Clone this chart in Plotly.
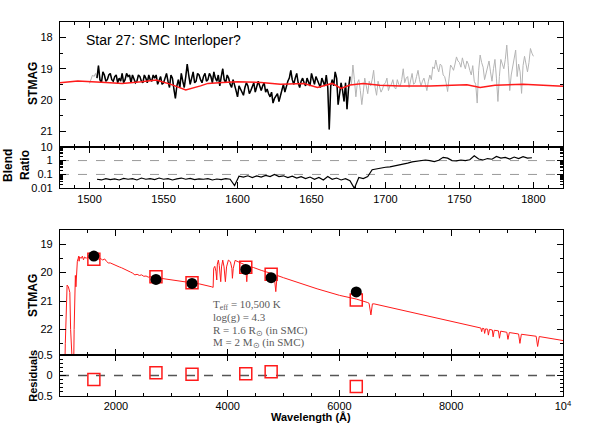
import numpy as np
import plotly.graph_objects as go

# ---------------- data ----------------
# UV spectrum (STMAG), 1 A sampling starting at 1500 A
spec_start, spec_step = 1500, 1
spec_mag = [
    19.47, 19.30, 19.20, 19.25, 19.15, 19.30, 18.90, 19.35, 19.45, 19.10,
    19.20, 19.40, 19.35, 19.20, 19.15, 19.35, 19.40, 19.25, 19.20, 19.45,
    19.30, 19.40, 19.15, 19.45, 19.35, 19.15, 19.25, 19.20, 19.45, 19.20,
    19.30, 19.45, 19.40, 19.20, 19.25, 19.40, 19.45, 19.20, 19.30, 19.45,
    19.20, 19.35, 19.40, 19.20, 19.30, 19.20, 19.50, 19.35, 19.25, 19.50,
    19.45, 19.30, 19.15, 19.40, 19.60, 19.20, 19.30, 19.65, 19.95, 19.55,
    19.35, 19.60, 19.15, 19.40, 19.60, 19.25, 18.85, 19.20, 19.50, 19.30,
    19.10, 19.45, 19.40, 19.15, 19.20, 19.35, 19.45, 19.25, 19.15, 19.40,
    19.35, 19.15, 19.25, 19.45, 19.10, 19.30, 19.40, 19.20, 19.55, 19.25,
    19.00, 19.35, 19.45, 19.20, 19.30, 19.50, 19.60, 19.35, 19.50, 19.70,
    19.90, 19.55, 19.65, 19.75, 19.85, 19.60, 19.45, 19.55, 19.80, 19.70,
    19.55, 19.45, 19.75, 19.60, 19.40, 19.55, 19.70, 19.55, 19.45, 19.75,
    19.65, 19.80, 19.90, 19.75, 20.10, 19.95, 19.85, 19.80, 20.05, 19.85,
    19.60, 19.50, 19.75, 19.55, 19.40, 19.30, 19.05, 19.35, 19.50, 19.30,
    19.15, 19.45, 19.60, 19.40, 19.30, 19.45, 19.55, 19.30, 19.40, 19.55,
    19.15, 19.35, 19.50, 19.25, 19.35, 19.50, 19.60, 19.30, 19.45, 19.55,
    19.20, 19.60, 20.95, 19.55, 19.35, 19.55, 19.10, 19.30, 20.15, 19.70,
    19.45, 19.70, 20.05, 19.45, 20.30, 19.65, 19.25, 19.50, 18.88, 19.35,
    19.90, 19.45, 19.35, 19.70, 20.15, 19.75, 19.30, 19.55, 19.80, 19.40,
    19.55, 19.35, 19.05, 19.60, 19.85, 19.40, 19.55, 19.75, 19.65, 19.50,
    19.45, 19.30, 19.70, 19.55, 19.50, 19.35, 19.60, 19.65, 19.35, 19.50,
    19.55, 19.35, 19.00, 19.45, 19.30, 19.25, 19.60, 19.40, 19.15, 19.50,
    19.45, 19.25, 19.05, 19.35, 19.55, 19.40, 19.30, 19.50, 19.70, 19.40,
    19.20, 19.35, 18.94, 19.00, 18.72, 18.95, 19.10, 18.85, 18.90, 19.20,
    19.25, 19.45, 19.73, 19.30, 18.88, 18.95, 19.05, 18.85, 18.62, 18.75,
    18.80, 18.95, 18.65, 18.85, 19.00, 18.75, 18.85, 19.05, 19.20, 18.90,
    19.40, 19.50, 20.10, 19.05, 18.56, 18.80, 18.95, 19.35, 19.15, 18.90,
    18.75, 19.10, 19.40, 19.00, 18.70, 19.30, 20.05, 19.25, 18.70, 18.85,
    19.00, 18.70, 18.24, 18.90, 19.70, 19.20, 18.95, 18.70, 18.40, 19.25,
    18.85, 19.10, 19.79, 18.90, 18.60, 18.85, 19.10, 18.80, 18.35, 18.50,
    18.60,
]
good_range = (1505, 1676)   # part of the spectrum drawn in black

top_model_wl = [1480, 1492, 1511, 1522, 1535, 1545, 1555, 1565, 1575, 1580, 1590,
                1600, 1616, 1629, 1645, 1654, 1664, 1670, 1676, 1685, 1696, 1710,
                1730, 1755, 1764, 1774, 1793, 1820]
top_model_mag = [19.45, 19.39, 19.44, 19.47, 19.42, 19.36, 19.50, 19.68, 19.55, 19.47,
                 19.44, 19.42, 19.44, 19.50, 19.47, 19.60, 19.47, 19.63, 19.52, 19.47,
                 19.53, 19.55, 19.55, 19.51, 19.60, 19.53, 19.50, 19.56]

# Blend ratio, 3 A sampling starting at 1505 A
blend_start, blend_step = 1505, 3
blend_ratio = [
    0.045, 0.040, 0.050, 0.042, 0.048, 0.040, 0.052, 0.045, 0.050, 0.040,
    0.055, 0.045, 0.050, 0.043, 0.055, 0.045, 0.050, 0.040, 0.048, 0.055,
    0.045, 0.052, 0.042, 0.048, 0.045, 0.050, 0.040, 0.047, 0.043, 0.050,
    0.045, 0.016, 0.075, 0.065, 0.080, 0.060, 0.078, 0.065, 0.085, 0.070,
    0.100, 0.070, 0.080, 0.060, 0.075, 0.055, 0.070, 0.050, 0.065, 0.045,
    0.060, 0.040, 0.070, 0.045, 0.055, 0.040, 0.050, 0.035, 0.010, 0.060,
    0.050, 0.070, 0.220, 0.260, 0.300, 0.330, 0.350, 0.400, 0.450, 0.550,
    0.650, 0.800, 0.900, 1.000, 1.100, 1.000, 0.850, 1.050, 1.700, 1.500,
    1.000, 0.950, 1.100, 1.000, 1.150, 2.200, 1.300, 1.100, 1.400, 1.250,
    2.000, 1.500, 1.700, 1.300, 1.800, 1.400, 1.900, 1.500, 1.600,
]
blend_levels = [1, 0.1]

# Model SED (STMAG)
model_wl = [1000, 1080, 1095, 1110, 1127, 1150, 1176, 1190, 1206, 1240, 1253, 1265,
            1275, 1285, 1296, 1310, 1325, 1335, 1342, 1350, 1380, 1400, 1420, 1440,
            1470, 1500, 1530, 1550, 1580, 1610, 1640, 1670, 1700, 1730, 1760, 1800,
            1830, 1863, 1900, 1940, 1980, 2020, 2060, 2102, 2140, 2180, 2220, 2260,
            2300, 2340, 2380, 2420, 2460, 2500, 2540, 2580, 2620, 2700, 2800, 3000,
            3300, 3500, 3715, 3740, 3750, 3770, 3790, 3805, 3815, 3834, 3850, 3876,
            3890, 3912, 3935, 3959, 3980, 4013, 4050, 4075, 4085, 4100, 4133, 4200,
            4280, 4320, 4342, 4360, 4460, 4600, 4760, 4830, 4861, 4885, 5000, 5300,
            5600, 6000, 6300, 6500, 6530, 6563, 6590, 6620, 7000, 7500, 8000, 8500,
            8530, 8545, 8560, 8585, 8598, 8615, 8650, 8665, 8685, 8735, 8750, 8770,
            8845, 8863, 8885, 8995, 9015, 9040, 9205, 9229, 9255, 9520, 9546, 9575,
            10000]
model_mag = [24.0, 24.0, 22.5, 21.0, 20.44, 20.5, 20.7, 22.0, 24.0, 24.0, 22.0, 20.6,
             20.1, 20.5, 19.85, 19.6, 19.5, 19.42, 19.6, 19.45, 19.5, 19.42, 19.55, 19.45,
             19.5, 19.44, 19.52, 19.42, 19.5, 19.45, 19.52, 19.48, 19.55, 19.5, 19.56, 19.52,
             19.6, 19.66, 19.66, 19.7, 19.74, 19.78, 19.8, 19.83, 19.86, 19.92, 19.95, 19.98,
             20.02, 20.08, 20.06, 20.1, 20.08, 20.13, 20.12, 20.16, 20.14, 20.18, 20.2, 20.26,
             20.33, 20.4, 20.5, 20.52, 19.85, 19.78, 19.95, 20.26, 19.7, 19.56, 19.75, 20.32,
             19.8, 19.56, 19.8, 20.32, 19.8, 19.56, 19.62, 19.85, 20.2, 19.85, 19.57, 19.62,
             19.7, 19.76, 20.32, 19.78, 19.82, 19.92, 20.02, 20.06, 20.67, 20.1, 20.18, 20.38,
             20.57, 20.8, 20.93, 21.05, 21.08, 21.49, 21.1, 21.1, 21.27, 21.5, 21.72, 21.93,
             21.95, 22.08, 21.96, 21.97, 22.14, 21.98, 21.99, 22.2, 22.0, 22.02, 22.26, 22.03,
             22.05, 22.31, 22.06, 22.1, 22.35, 22.11, 22.16, 22.49, 22.17, 22.24, 22.6, 22.25,
             22.39]

phot_wl = [1606, 2717, 3362, 4324, 4778, 6301]
obs_mag = [19.42, 20.24, 20.38, 19.89, 20.18, 20.68]
model_phot_mag = [19.53, 20.15, 20.36, 19.81, 20.06, 20.96]
residuals = [-0.10, 0.07, 0.03, 0.04, 0.09, -0.27]

top_xrange = [1480, 1820]
sed_xrange = [1000, 10000]

params_text = ["T<sub>eff</sub> = 10,500 K", "log(g) = 4.3",
               "R = 1.6 R<sub>⊙</sub> (in SMC)", "M = 2 M<sub>⊙</sub> (in SMC)"]

# ---------------- figure ----------------
spec_wl = np.arange(len(spec_mag)) * spec_step + spec_start
spec_mag_arr = np.array(spec_mag)
good = (spec_wl >= good_range[0]) & (spec_wl <= good_range[1])
blend_wl = np.arange(len(blend_ratio)) * blend_step + blend_start

RED = "#ff1a1a"
fig = go.Figure()

fig.add_trace(go.Scatter(x=spec_wl, y=spec_mag_arr, mode="lines", line=dict(color="#b4b4b4", width=1),
                         xaxis="x", yaxis="y", showlegend=False))
fig.add_trace(go.Scatter(x=spec_wl[good], y=spec_mag_arr[good], mode="lines",
                         line=dict(color="black", width=1.5),
                         xaxis="x", yaxis="y", showlegend=False))
fig.add_trace(go.Scatter(x=top_model_wl, y=top_model_mag, mode="lines", line=dict(color=RED, width=1.5),
                         xaxis="x", yaxis="y", showlegend=False))

fig.add_trace(go.Scatter(x=blend_wl, y=blend_ratio, mode="lines", line=dict(color="black", width=1.2),
                         xaxis="x2", yaxis="y2", showlegend=False))

fig.add_trace(go.Scatter(x=model_wl, y=model_mag, mode="lines", line=dict(color=RED, width=1),
                         xaxis="x3", yaxis="y3", showlegend=False))
fig.add_trace(go.Scatter(x=phot_wl, y=model_phot_mag, mode="markers",
                         marker=dict(symbol="square-open", size=12, color=RED, line=dict(width=1.5, color=RED)),
                         xaxis="x3", yaxis="y3", showlegend=False))
fig.add_trace(go.Scatter(x=phot_wl, y=obs_mag, mode="markers",
                         marker=dict(symbol="circle", size=11, color="black"),
                         xaxis="x3", yaxis="y3", showlegend=False))

fig.add_trace(go.Scatter(x=phot_wl, y=residuals, mode="markers",
                         marker=dict(symbol="square-open", size=12, color=RED, line=dict(width=1.5, color=RED)),
                         xaxis="x4", yaxis="y4", showlegend=False))

shapes = []
for lvl in blend_levels:
    shapes.append(dict(type="line", xref="x2 domain", x0=0, x1=1, yref="y2", y0=lvl, y1=lvl,
                       line=dict(color="#9a9a9a", width=1, dash="dash"), layer="below"))
shapes.append(dict(type="line", xref="x4 domain", x0=0, x1=1, yref="y4", y0=0, y1=0,
                   line=dict(color="#555555", width=1.5, dash="dash"), layer="below"))

TICKFONT = dict(family="Liberation Sans, Arial, sans-serif", size=11, color="black")


def axis(**kw):
    base = dict(showline=True, linecolor="black", linewidth=1.2, mirror="allticks",
                ticks="inside", ticklen=6, tickwidth=1, tickcolor="black",
                showgrid=False, zeroline=False, tickfont=TICKFONT)
    base.update(kw)
    return base


def minor(d, t0=0):
    return dict(ticks="inside", ticklen=3, tickwidth=1, tickcolor="black", dtick=d, tick0=t0, showgrid=False)


# paper domains
d_top = [0.6666, 1.0]
d_blend = [0.5553, 0.6666]
d_sed = [0.1096, 0.4439]
d_res = [0.0, 0.1096]

fig.update_layout(
    width=598, height=447,
    margin=dict(l=60, r=35, t=22, b=51),
    paper_bgcolor="white", plot_bgcolor="white",
    showlegend=False,
    xaxis=axis(domain=[0, 1], range=top_xrange, anchor="y", tick0=1500, dtick=50,
               showticklabels=False, minor=minor(10)),
    yaxis=axis(domain=d_top, range=[21.5, 17.5], anchor="x", tick0=18, dtick=1,
               minor=minor(0.5), ticklabelstandoff=4),
    xaxis2=axis(domain=[0, 1], range=top_xrange, anchor="y2", tick0=1500, dtick=50,
                minor=minor(10)),
    yaxis2=axis(domain=d_blend, type="log", range=[-2, 1], anchor="x2",
                tickvals=[0.01, 0.1, 1, 10], ticktext=["0.01", "0.1", "1", "10"],
                minor=dict(ticks="inside", ticklen=3, tickwidth=1, tickcolor="black", dtick="D1", showgrid=False),
                ticklabelstandoff=4),
    xaxis3=axis(domain=[0, 1], range=sed_xrange, anchor="y3", tick0=0, dtick=2000,
                showticklabels=False, minor=minor(500)),
    yaxis3=axis(domain=d_sed, range=[22.9, 18.5], anchor="x3", tick0=19, dtick=1,
                minor=minor(0.5), ticklabelstandoff=4),
    xaxis4=axis(domain=[0, 1], range=sed_xrange, anchor="y4",
                tickvals=[2000, 4000, 6000, 8000, 10000],
                ticktext=["2000", "4000", "6000", "8000", "10<sup>4</sup>"],
                minor=minor(500)),
    yaxis4=axis(domain=d_res, range=[-0.5, 0.5], anchor="x4",
                tickvals=[-0.5, 0, 0.5], ticktext=["\u22120.5", "0", "0.5"],
                minor=minor(0.1), ticklabelstandoff=4),
    shapes=shapes,
)

LABELFONT = dict(family="Liberation Sans, Arial, sans-serif", size=12, color="black")
ann = []
ann.append(dict(text="<b>STMAG</b>", x=-0.0537, y=0.837, textangle=-90))
ann.append(dict(text="<b>Blend</b>", x=-0.1034, y=0.6177, textangle=-90))
ann.append(dict(text="<b>Ratio</b>", x=-0.0696, y=0.6177, textangle=-90))
ann.append(dict(text="<b>STMAG</b>", x=-0.0537, y=0.270, textangle=-90))
ann.append(dict(text="<b>Residuals</b>", x=-0.0537, y=0.054, textangle=-90,
                font=dict(family="Liberation Sans, Arial, sans-serif", size=11, color="black")))
ann.append(dict(text="<b>Wavelength (Å)</b>", x=0.499, y=-0.056, textangle=0,
                font=dict(family="Liberation Sans, Arial, sans-serif", size=11, color="black")))
for a in ann:
    a.update(xref="paper", yref="paper", showarrow=False, xanchor="center", yanchor="middle")
    a.setdefault("font", LABELFONT)

ann.append(dict(text="Star 27: SMC Interloper?", x=0.0477, y=0.952, xref="paper", yref="paper",
                showarrow=False, xanchor="left", yanchor="middle",
                font=dict(family="Liberation Sans, Arial, sans-serif", size=14, color="black")))

p_y = [0.2433, 0.2086, 0.1738, 0.1417]
for txt, yy in zip(params_text, p_y):
    ann.append(dict(text=txt, x=0.300, y=yy, xref="paper", yref="paper", showarrow=False,
                    xanchor="left", yanchor="middle",
                    font=dict(family="Liberation Serif, Times New Roman, serif", size=11, color="#5a5a5a")))

fig.update_layout(annotations=ann)

fig.write_html("out.html", config={"displayModeBar": False},
               post_script="document.body.style.margin='0px';")
